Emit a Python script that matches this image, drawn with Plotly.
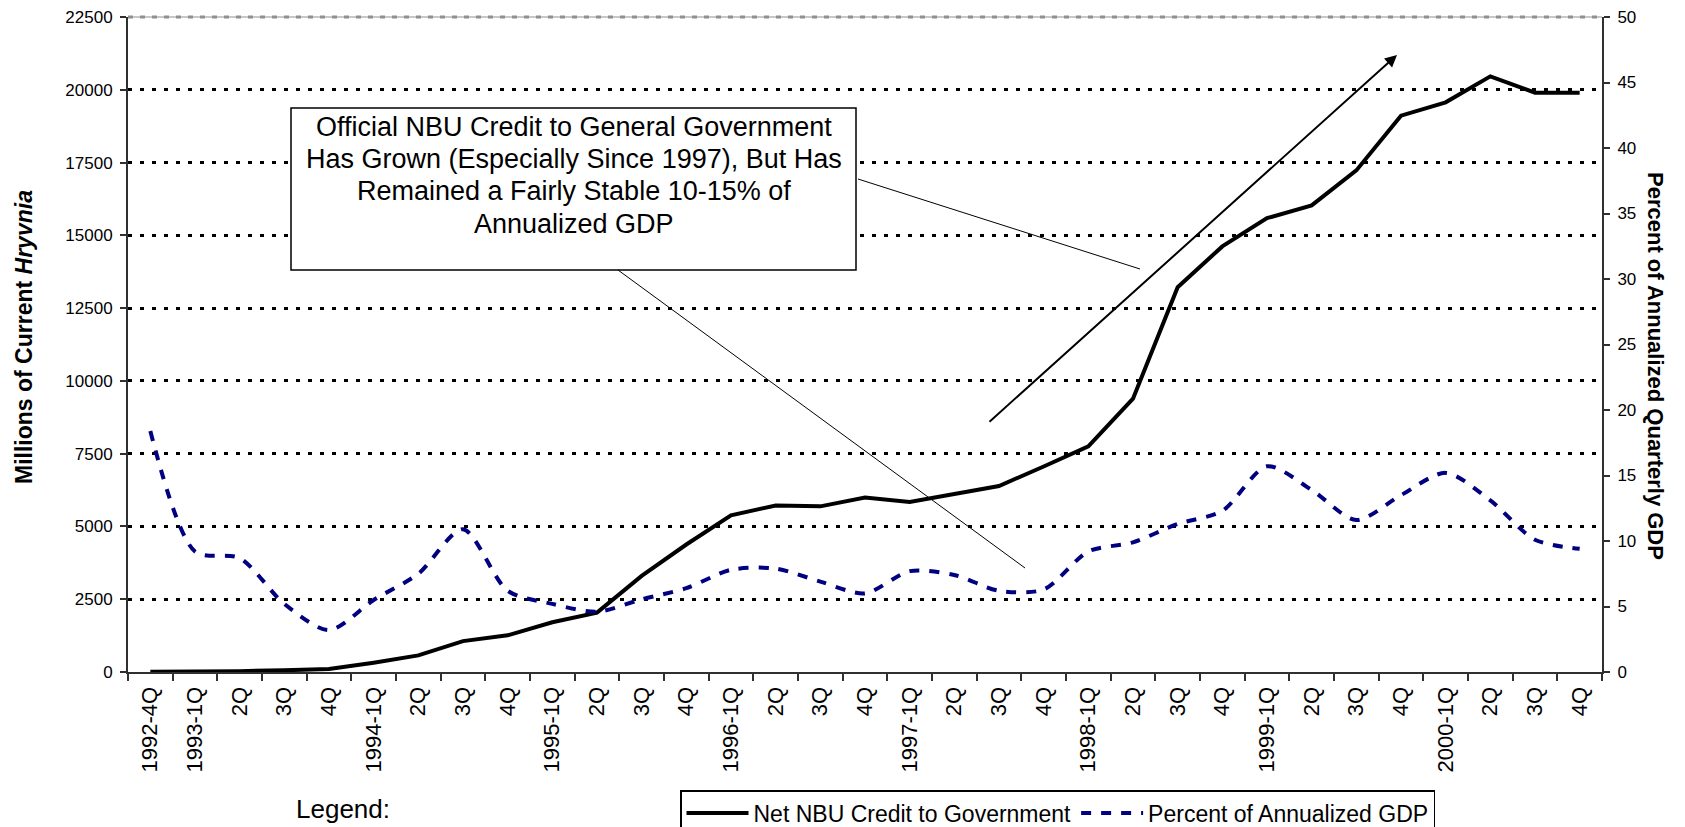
import plotly.graph_objects as go

# ---------------- data ----------------
quarters = [
    "1992-4Q",
    "1993-1Q", "1993-2Q", "1993-3Q", "1993-4Q",
    "1994-1Q", "1994-2Q", "1994-3Q", "1994-4Q",
    "1995-1Q", "1995-2Q", "1995-3Q", "1995-4Q",
    "1996-1Q", "1996-2Q", "1996-3Q", "1996-4Q",
    "1997-1Q", "1997-2Q", "1997-3Q", "1997-4Q",
    "1998-1Q", "1998-2Q", "1998-3Q", "1998-4Q",
    "1999-1Q", "1999-2Q", "1999-3Q", "1999-4Q",
    "2000-1Q", "2000-2Q", "2000-3Q", "2000-4Q",
]
tick_labels = [
    "1992-4Q",
    "1993-1Q", "2Q", "3Q", "4Q",
    "1994-1Q", "2Q", "3Q", "4Q",
    "1995-1Q", "2Q", "3Q", "4Q",
    "1996-1Q", "2Q", "3Q", "4Q",
    "1997-1Q", "2Q", "3Q", "4Q",
    "1998-1Q", "2Q", "3Q", "4Q",
    "1999-1Q", "2Q", "3Q", "4Q",
    "2000-1Q", "2Q", "3Q", "4Q",
]
net_credit = [
    10,
    15, 30, 60, 100,
    320, 570, 1060, 1260,
    1710, 2040, 3300, 4380,
    5380, 5720, 5690, 5990,
    5840, 6100, 6390, 7060,
    7750, 9390, 13220, 14620,
    15590, 16030, 17230, 19110,
    19570, 20460, 19900, 19900,
]
pct_gdp = [
    18.4,
    9.2, 8.7, 5.2, 3.2,
    5.5, 7.5, 10.9, 6.2,
    5.2, 4.6, 5.55, 6.4,
    7.8, 7.9, 6.9, 6.0,
    7.7, 7.4, 6.2, 6.3,
    9.2, 9.9, 11.3, 12.3,
    15.7, 13.9, 11.6, 13.5,
    15.2, 13.1, 10.1, 9.4,
]
left_ticks = list(range(0, 22501, 2500))
right_ticks = list(range(0, 51, 5))
box_lines = [
    "Official NBU Credit to General Government",
    "Has Grown (Especially Since 1997), But Has",
    "Remained a Fairly Stable 10-15% of",
    "Annualized GDP",
]

# ---------------- layout geometry (pixels) ----------------
# The page body adds an 8px offset, so the figure is drawn 8px smaller and
# reference pixel positions are shifted by OFF.
OFF = 8
W, H = 1685 - OFF, 827 - OFF
PL, PR, PT, PB = 128 - OFF, 1602 - OFF, 17 - OFF, 672 - OFF   # plot edges


def px(x):
    return (x - OFF - PL) / (PR - PL)


def py(y):
    return (PB - (y - OFF)) / (PB - PT)


FONT = "Arial, Liberation Sans, sans-serif"

fig = go.Figure()
fig.add_trace(go.Scatter(
    x=quarters, y=net_credit, name="Net NBU Credit to Government",
    mode="lines", line=dict(color="black", width=4),
))
fig.add_trace(go.Scatter(
    x=quarters, y=pct_gdp, name="Percent of Annualized GDP", yaxis="y2",
    mode="lines", line=dict(color="#000080", width=4, dash="10px,10px",
                             shape="spline", smoothing=0.8),
))

shapes = [
    # gray top border line at 22500
    dict(type="line", xref="paper", yref="paper", x0=0, x1=1, y0=1, y1=1,
         line=dict(color="white", width=4), layer="above"),
    dict(type="line", xref="paper", yref="paper", x0=0, x1=1, y0=1, y1=1,
         line=dict(color="#909090", width=1), layer="above"),
    dict(type="line", xref="paper", yref="paper", x0=0, x1=1, y0=1, y1=1,
         line=dict(color="#909090", width=3, dash="5px,7px"), layer="above"),
    # text box
    dict(type="rect", xref="paper", yref="paper",
         x0=px(291), x1=px(856), y0=py(270), y1=py(108),
         fillcolor="white", line=dict(color="black", width=1.5), layer="above"),
    # callout lines
    dict(type="line", xref="paper", yref="paper",
         x0=px(858), y0=py(179), x1=px(1140), y1=py(269),
         line=dict(color="black", width=1), layer="above"),
    dict(type="line", xref="paper", yref="paper",
         x0=px(618), y0=py(270), x1=px(1025), y1=py(568),
         line=dict(color="black", width=1), layer="above"),
]

annotations = []
for i, line_text in enumerate(box_lines):
    annotations.append(dict(
        xref="paper", yref="paper", x=px(573.5), y=py(127 + 32.2 * i),
        xanchor="center", yanchor="middle", showarrow=False,
        text=line_text, font=dict(family=FONT, size=27, color="black")))

annotations += [
    # arrow
    dict(xref="paper", yref="paper", x=px(1397), y=py(55),
         ax=988 - 1397, ay=423 - 55, axref="pixel", ayref="pixel",
         showarrow=True, arrowhead=2, arrowsize=1.2, arrowwidth=2,
         arrowcolor="black", text=""),
    # axis titles
    dict(xref="paper", yref="paper", x=px(24), y=py(337), textangle=-90,
         showarrow=False, xanchor="center", yanchor="middle",
         text="<b>Millions of Current <i>Hryvnia</i></b>",
         font=dict(family=FONT, size=23, color="black")),
    dict(xref="paper", yref="paper", x=px(1655), y=py(366), textangle=90,
         showarrow=False, xanchor="center", yanchor="middle",
         text="<b>Percent of Annualized Quarterly GDP</b>",
         font=dict(family=FONT, size=22, color="black")),
    dict(xref="paper", yref="paper", x=px(343), y=py(809),
         showarrow=False, xanchor="center", yanchor="middle",
         text="Legend:", font=dict(family=FONT, size=26, color="black")),
]

fig.update_layout(
    width=W, height=H,
    margin=dict(l=PL, r=W - PR, t=PT, b=H - PB, pad=0, autoexpand=False),
    paper_bgcolor="white", plot_bgcolor="white",
    font=dict(family=FONT, color="black"),
    showlegend=True,
    legend=dict(orientation="h", x=px(680), y=py(790), xanchor="left",
                yanchor="top", bordercolor="black", borderwidth=1.5,
                bgcolor="white", font=dict(family=FONT, size=23),
                itemwidth=62, tracegroupgap=0),
    xaxis=dict(
        type="category", categoryorder="array", categoryarray=quarters,
        range=[-0.5, len(quarters) - 0.5], automargin=False,
        tickmode="array", tickvals=quarters, ticktext=tick_labels,
        tickangle=-90, tickson="boundaries", ticks="outside", ticklen=7,
        tickwidth=1.5, tickcolor="#303030",
        showline=True, linecolor="#303030", linewidth=2,
        showgrid=False, zeroline=False, ticklabelstandoff=4,
        ticklabeloverflow="allow",
        tickfont=dict(family=FONT, size=22, color="black"),
    ),
    yaxis=dict(
        range=[0, 22500], tickmode="array", tickvals=left_ticks,
        tickformat="d", automargin=False, ticklabeloverflow="allow",
        ticks="outside", ticklen=6, tickwidth=1.5, tickcolor="#303030",
        showline=True, linecolor="#303030", linewidth=2,
        showgrid=True, gridcolor="black", gridwidth=3, griddash="4px,8px",
        zeroline=False, ticklabelstandoff=4,
        tickfont=dict(family=FONT, size=17, color="black"),
    ),
    yaxis2=dict(
        range=[0, 50], tickmode="array", tickvals=right_ticks,
        overlaying="y", side="right", automargin=False,
        ticklabeloverflow="allow",
        ticks="outside", ticklen=6, tickwidth=1.5, tickcolor="#303030",
        showline=True, linecolor="#303030", linewidth=2,
        showgrid=False, zeroline=False, ticklabelstandoff=4,
        tickfont=dict(family=FONT, size=17, color="black"),
    ),
    shapes=shapes,
    annotations=annotations,
)

fig.write_html("out.html")
